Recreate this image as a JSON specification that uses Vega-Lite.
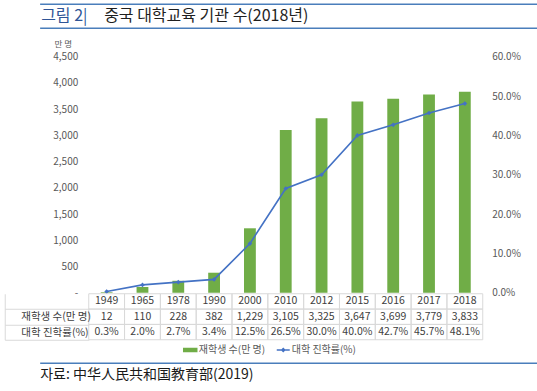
{
  "$schema": "https://vega.github.io/schema/vega-lite/v6.json",
  "padding": {"left": 4, "top": 3.25, "right": 4, "bottom": 0},
  "config": {"view": {"stroke": null}, "font": "Noto Sans CJK KR"},
  "datasets": {
    "main": [
      {"year": "1949", "students": 12, "rate": 0.003},
      {"year": "1965", "students": 110, "rate": 0.02},
      {"year": "1978", "students": 228, "rate": 0.027},
      {"year": "1990", "students": 382, "rate": 0.034},
      {"year": "2000", "students": 1229, "rate": 0.125},
      {"year": "2010", "students": 3105, "rate": 0.265},
      {"year": "2012", "students": 3325, "rate": 0.3},
      {"year": "2015", "students": 3647, "rate": 0.4},
      {"year": "2016", "students": 3699, "rate": 0.427},
      {"year": "2017", "students": 3779, "rate": 0.457},
      {"year": "2018", "students": 3833, "rate": 0.481}
    ],
    "table": [
      {"year": "1949", "row": "연도", "text": "1949"},
      {"year": "1965", "row": "연도", "text": "1965"},
      {"year": "1978", "row": "연도", "text": "1978"},
      {"year": "1990", "row": "연도", "text": "1990"},
      {"year": "2000", "row": "연도", "text": "2000"},
      {"year": "2010", "row": "연도", "text": "2010"},
      {"year": "2012", "row": "연도", "text": "2012"},
      {"year": "2015", "row": "연도", "text": "2015"},
      {"year": "2016", "row": "연도", "text": "2016"},
      {"year": "2017", "row": "연도", "text": "2017"},
      {"year": "2018", "row": "연도", "text": "2018"},
      {"year": "1949", "row": "재학생 수(만 명)", "text": "12"},
      {"year": "1965", "row": "재학생 수(만 명)", "text": "110"},
      {"year": "1978", "row": "재학생 수(만 명)", "text": "228"},
      {"year": "1990", "row": "재학생 수(만 명)", "text": "382"},
      {"year": "2000", "row": "재학생 수(만 명)", "text": "1,229"},
      {"year": "2010", "row": "재학생 수(만 명)", "text": "3,105"},
      {"year": "2012", "row": "재학생 수(만 명)", "text": "3,325"},
      {"year": "2015", "row": "재학생 수(만 명)", "text": "3,647"},
      {"year": "2016", "row": "재학생 수(만 명)", "text": "3,699"},
      {"year": "2017", "row": "재학생 수(만 명)", "text": "3,779"},
      {"year": "2018", "row": "재학생 수(만 명)", "text": "3,833"},
      {"year": "1949", "row": "대학 진학률(%)", "text": "0.3%"},
      {"year": "1965", "row": "대학 진학률(%)", "text": "2.0%"},
      {"year": "1978", "row": "대학 진학률(%)", "text": "2.7%"},
      {"year": "1990", "row": "대학 진학률(%)", "text": "3.4%"},
      {"year": "2000", "row": "대학 진학률(%)", "text": "12.5%"},
      {"year": "2010", "row": "대학 진학률(%)", "text": "26.5%"},
      {"year": "2012", "row": "대학 진학률(%)", "text": "30.0%"},
      {"year": "2015", "row": "대학 진학률(%)", "text": "40.0%"},
      {"year": "2016", "row": "대학 진학률(%)", "text": "42.7%"},
      {"year": "2017", "row": "대학 진학률(%)", "text": "45.7%"},
      {"year": "2018", "row": "대학 진학률(%)", "text": "48.1%"}
    ],
    "series": [
      {"series": "재학생 수(만 명)"},
      {"series": "대학 진학률(%)"}
    ],
    "heading": [
      {"seg": "a", "label": "그림 2|"},
      {"seg": "b", "label": "중국 대학교육 기관 수(2018년)"}
    ]
  },
  "center": true,
  "spacing": 10.5,
  "resolve": {"scale": {"color": "independent"}, "legend": {"color": "independent"}},
  "vconcat": [
    {
      "width": 528,
      "height": 24,
      "data": {"values": [{}]},
      "layer": [
        {
          "mark": {"type": "rule", "color": "#4A7EBB", "strokeWidth": 1.5},
          "encoding": {"y": {"datum": 1, "type": "quantitative", "scale": {"domain": [0, 1]}, "axis": null}}
        },
        {
          "mark": {"type": "rule", "color": "#4A7EBB", "strokeWidth": 1.5},
          "encoding": {"y": {"datum": 0, "type": "quantitative"}}
        },
        {
          "data": {"name": "heading"},
          "mark": {"type": "text", "align": "left", "baseline": "middle", "fontSize": 16},
          "encoding": {
            "x": {"field": "seg", "type": "nominal", "scale": {"type": "point", "range": [1, 64], "padding": 0}, "axis": null},
            "y": {"datum": 0.5, "type": "quantitative"},
            "text": {"field": "label"},
            "color": {"field": "seg", "type": "nominal", "scale": {"domain": ["a", "b"], "range": ["#2F5597", "#1F1F1F"]}, "legend": null}
          }
        }
      ]
    },
    {
      "center": true,
      "spacing": 6.5,
      "resolve": {"scale": {"color": "independent"}, "legend": {"color": "independent"}},
      "vconcat": [
        {
          "bounds": "flush",
          "spacing": 1,
          "resolve": {"scale": {"color": "independent"}, "legend": {"color": "independent"}},
          "vconcat": [
            {
              "width": 394,
              "height": 236,
              "data": {"name": "main"},
              "encoding": {
                "x": {"field": "year", "type": "ordinal", "scale": {"paddingInner": 0.67, "paddingOuter": 0.335}, "axis": null}
              },
              "layer": [
                {
                  "mark": {"type": "bar", "color": "#70AD47"},
                  "encoding": {
                    "y": {
                      "field": "students", "type": "quantitative",
                      "scale": {"domain": [0, 4500], "nice": false},
                      "axis": {
                        "orient": "left",
                        "values": [0, 500, 1000, 1500, 2000, 2500, 3000, 3500, 4000, 4500],
                        "labelExpr": "datum.value === 0 ? '-' : format(datum.value, ',')",
                        "domain": false, "ticks": false, "grid": false,
                        "labelPadding": 11, "labelFontSize": 10, "labelColor": "#595959",
                        "title": "만 명", "titleAngle": 0, "titleX": -26, "titleY": -13,
                        "titleAlign": "center", "titleBaseline": "middle",
                        "titleFontSize": 8.5, "titleFontWeight": "normal", "titleColor": "#595959"
                      }
                    }
                  }
                },
                {
                  "mark": {"type": "line", "color": "#4472C4", "strokeWidth": 1.6, "point": {"shape": "diamond", "size": 22, "filled": true, "color": "#4472C4"}},
                  "encoding": {
                    "y": {
                      "field": "rate", "type": "quantitative",
                      "scale": {"domain": [0, 0.6], "nice": false},
                      "axis": {
                        "orient": "right",
                        "values": [0, 0.1, 0.2, 0.3, 0.4, 0.5, 0.6],
                        "format": ".1%",
                        "domain": false, "ticks": false, "grid": false,
                        "labelPadding": 9, "labelFontSize": 10, "labelColor": "#595959",
                        "title": null
                      }
                    }
                  }
                }
              ],
              "resolve": {"scale": {"y": "independent"}}
            },
            {
              "width": 394,
              "height": 46,
              "layer": [
                {
                  "data": {"name": "table"},
                  "mark": {"type": "rect", "filled": false, "color": "#D9D9D9", "strokeWidth": 1},
                  "encoding": {
                    "x": {"field": "year", "type": "ordinal", "scale": {"paddingInner": 0, "paddingOuter": 0}, "axis": null},
                    "y": {
                      "field": "row", "type": "nominal",
                      "sort": ["연도", "재학생 수(만 명)", "대학 진학률(%)"],
                      "scale": {"paddingInner": 0, "paddingOuter": 0},
                      "axis": {
                        "orient": "left", "offset": 84, "title": null,
                        "values": ["대학 진학률(%)", "재학생 수(만 명)"],
                        "tickBand": "extent", "tickExtra": true, "tickSize": -84,
                        "tickColor": "#D9D9D9", "tickWidth": 1,
                        "domainColor": "#D9D9D9", "domainWidth": 1,
                        "labelAlign": "left", "labelPadding": 68, "labelBaseline": "middle",
                        "labelFontSize": 10.5, "labelColor": "#404040", "grid": false
                      }
                    }
                  }
                },
                {
                  "data": {"name": "table"},
                  "mark": {"type": "text", "fontSize": 10.5, "color": "#404040", "baseline": "middle"},
                  "encoding": {
                    "x": {"field": "year", "type": "ordinal"},
                    "y": {"field": "row", "type": "nominal", "sort": ["연도", "재학생 수(만 명)", "대학 진학률(%)"]},
                    "text": {"field": "text"}
                  }
                },
                {
                  "data": {"name": "series"},
                  "mark": {"type": "point", "filled": true, "opacity": 0},
                  "encoding": {
                    "color": {
                      "field": "series", "type": "nominal",
                      "scale": {"domain": ["재학생 수(만 명)", "대학 진학률(%)"], "range": ["#70AD47", "#4472C4"]},
                      "legend": {
                        "orient": "none", "legendX": 94, "legendY": 48.5,
                        "direction": "horizontal", "title": null, "padding": 0,
                        "labelFontSize": 10, "labelColor": "#595959", "labelOffset": 1,
                        "columnPadding": 8, "symbolSize": 169, "symbolOpacity": 1,
                        "encode": {
                          "symbols": {
                            "update": {
                              "shape": {"signal": "datum.value === '재학생 수(만 명)' ? 'M-1,-0.22H1V0.22H-1Z' : 'M-1,0H1M-0.22,0L0,-0.22L0.22,0L0,0.22Z'"},
                              "fill": {"signal": "datum.value === '재학생 수(만 명)' ? '#70AD47' : '#4472C4'"},
                              "stroke": {"signal": "datum.value === '재학생 수(만 명)' ? '#70AD47' : '#4472C4'"},
                              "strokeWidth": {"value": 1.5},
                              "opacity": {"value": 1}
                            }
                          }
                        }
                      }
                    }
                  }
                }
              ]
            }
          ]
        },
        {
          "width": 528,
          "height": 1,
          "data": {"values": [{}]},
          "mark": {"type": "rule", "color": "#4A7EBB", "strokeWidth": 1.5},
          "encoding": {"y": {"datum": 1, "type": "quantitative", "scale": {"domain": [0, 1]}, "axis": null}},
          "title": {
            "text": "자료: 中华人民共和国教育部(2019)",
            "orient": "bottom", "anchor": "start", "frame": "group",
            "fontSize": 14, "fontWeight": "normal", "color": "#1A1A1A", "offset": 4
          }
        }
      ]
    }
  ]
}
